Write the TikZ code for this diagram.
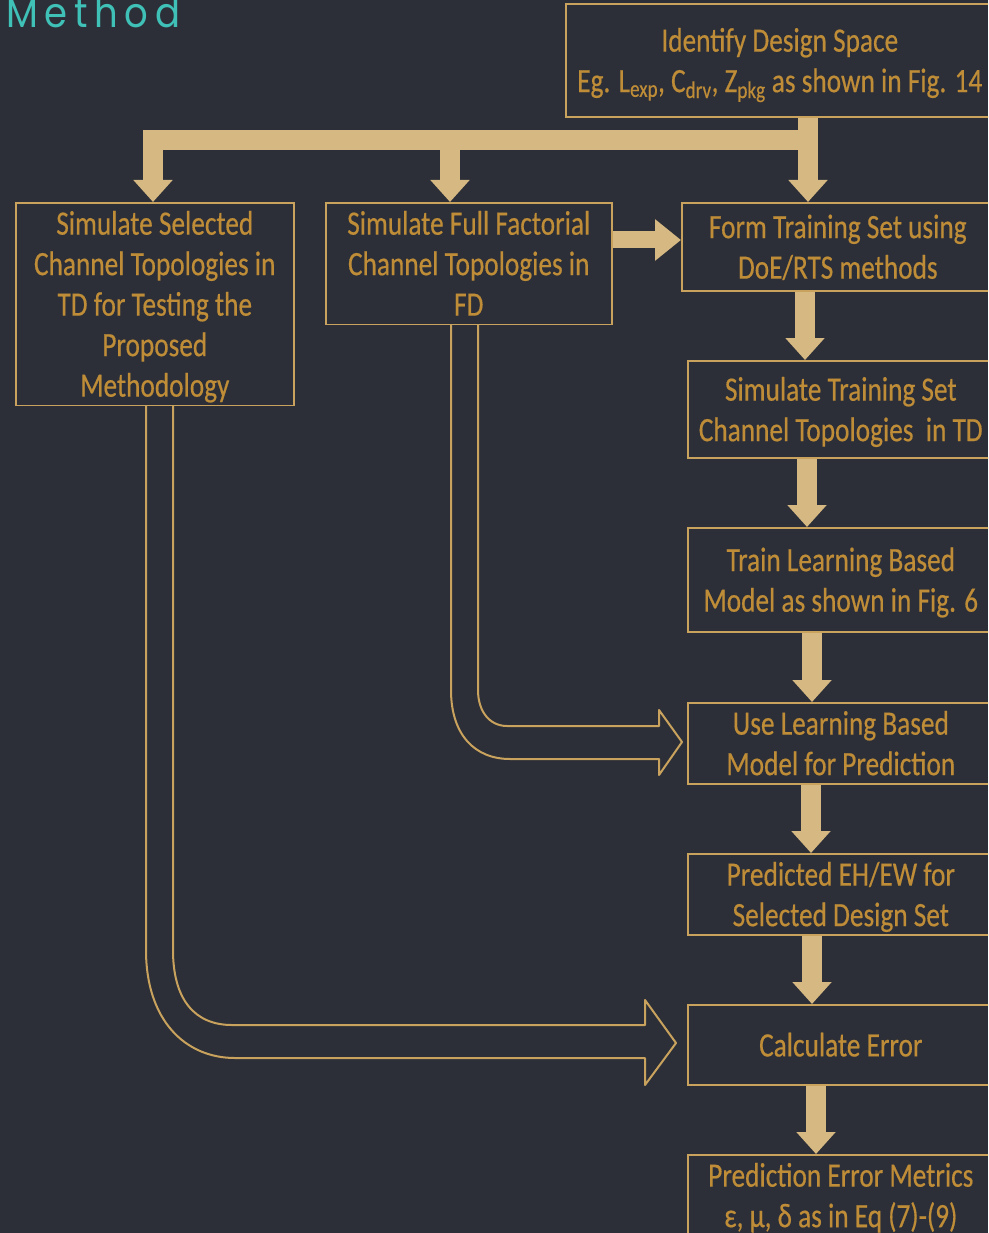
\documentclass[tikz,border=0pt]{standalone}
\usepackage{fontspec}
\usepackage{graphicx}
\setmainfont{Carlito}
\newfontfamily\bodyfam{Carlito}[FakeBold=0.5]
\newfontfamily\methodfont[LetterSpace=18]{Poppins}
\usetikzlibrary{arrows.meta}
\definecolor{bg}{HTML}{2C2F37}
\definecolor{gold}{HTML}{BF8D38}
\definecolor{edge}{HTML}{C9A25E}
\definecolor{tan}{HTML}{D6B882}
\definecolor{teal}{HTML}{3FC1B8}
\newcommand\bodyfont{\bodyfam\fontsize{27.3}{32.4}\selectfont}
\newcommand\blines[1]{\raisebox{-3.5pt}[\height][\depth]{\scalebox{1}[1.25]{\begin{tabular}{@{}c@{}}#1\end{tabular}}}}
\tikzset{
  box/.style={draw=edge, line width=1.6pt, anchor=north west, inner sep=0pt, text=gold, font=\bodyfont},
  fat/.style={draw=tan, line width=20pt, -{Triangle[width=38pt,length=22pt]}},
  fatside/.style={draw=tan, line width=17pt, -{Triangle[width=40pt,length=26pt]}},
  bar/.style={draw=tan, line width=20pt},
  hollow/.style={draw=edge, line width=2pt, line join=round},
}
\begin{document}
\begin{tikzpicture}[x=1pt,y=-1pt]
\useasboundingbox (0,0) rectangle (988,1233);
\fill[bg] (0,0) rectangle (988,1233);
\clip (0,0) rectangle (988,1233);

% title
\node[anchor=base west, inner sep=0pt, text=teal, font=\methodfont\fontsize{37}{37}\selectfont] (title) at (6,28) {\scalebox{1}[1.12]{Method}};

% boxes
\node[box, minimum width=428pt, minimum height=113pt] (id) at (565,3)
  {\blines{Identify Design Space\\Eg. L\textsubscript{exp}, C\textsubscript{drv}, Z\textsubscript{pkg} as shown in Fig. 14}};
\node[box, minimum width=278pt, minimum height=200pt] (ssel) at (15,202)
  {\blines{Simulate Selected\\Channel Topologies in\\TD for Testing the\\Proposed\\Methodology}};
\node[box, minimum width=286pt, minimum height=119pt] (sff) at (325,202)
  {\blines{Simulate Full Factorial\\Channel Topologies in\\FD}};
\node[box, minimum width=312pt, minimum height=88pt] (form) at (681,202)
  {\blines{Form Training Set using\\DoE/RTS methods}};
\node[box, minimum width=306pt, minimum height=97pt] (simts) at (687,360)
  {\blines{Simulate Training Set\\Channel Topologies~ in TD}};
\node[box, minimum width=306pt, minimum height=104pt] (train) at (687,527)
  {\blines{Train Learning Based\\Model as shown in Fig. 6}};
\node[box, minimum width=306pt, minimum height=79pt] (use) at (687,702)
  {\blines{Use Learning Based\\Model for Prediction}};
\node[box, minimum width=306pt, minimum height=80pt] (pred) at (687,853)
  {\blines{Predicted EH/EW for\\Selected Design Set}};
\node[box, minimum width=306pt, minimum height=80pt] (calc) at (687,1004)
  {\blines{Calculate Error}};
\node[box, minimum width=306pt, minimum height=80pt] (metr) at (687,1154)
  {\blines{Prediction Error Metrics\\ε, μ, δ as in Eq (7)-(9)}};

% junction coordinates of the top distribution bar
\coordinate (barL) at (143,140);
\coordinate (barR) at (818,140);
\coordinate (jl) at (153,140);
\coordinate (jm) at (450,140);

% fat arrows
\draw[bar] (barL) -- (barR);
\draw[fat] (id.south -| 808,0) -- (form.north -| 808,0);
\draw[fat] (jl) -- (ssel.north -| jl);
\draw[fat] (jm) -- (sff.north -| jm);
\draw[fatside] (sff.east |- 0,240) -- (form.west |- 0,240);
\draw[fat] (form.south -| 805,0) -- (simts.north -| 805,0);
\draw[fat] (simts.south -| 807,0) -- (train.north -| 807,0);
\draw[fat] (train.south -| 812,0) -- (use.north -| 812,0);
\draw[fat] (use.south -| 811,0) -- (pred.north -| 811,0);
\draw[fat] (pred.south -| 812,0) -- (calc.north -| 812,0);
\draw[fat] (calc.south -| 816,0) -- (metr.north -| 816,0);

% hollow curved arrows
\draw[hollow] (sff.south -| 451,0) -- (451,690)
  .. controls (451,735) and (475,759) .. (510,759) -- (659,759) -- (659,775)
  -- (682,742) -- (659,710) -- (659,726) -- (507,726)
  .. controls (490,726) and (478,712) .. (478,690) -- (sff.south -| 478,0);
\draw[hollow] (ssel.south -| 146,0) -- (146,950)
  .. controls (146,1020) and (185,1058) .. (235,1058) -- (645,1058) -- (645,1085)
  -- (676,1043) -- (645,1000) -- (645,1025) -- (232,1025)
  .. controls (195,1025) and (173,1000) .. (173,950) -- (ssel.south -| 173,0);
\end{tikzpicture}
\end{document}
